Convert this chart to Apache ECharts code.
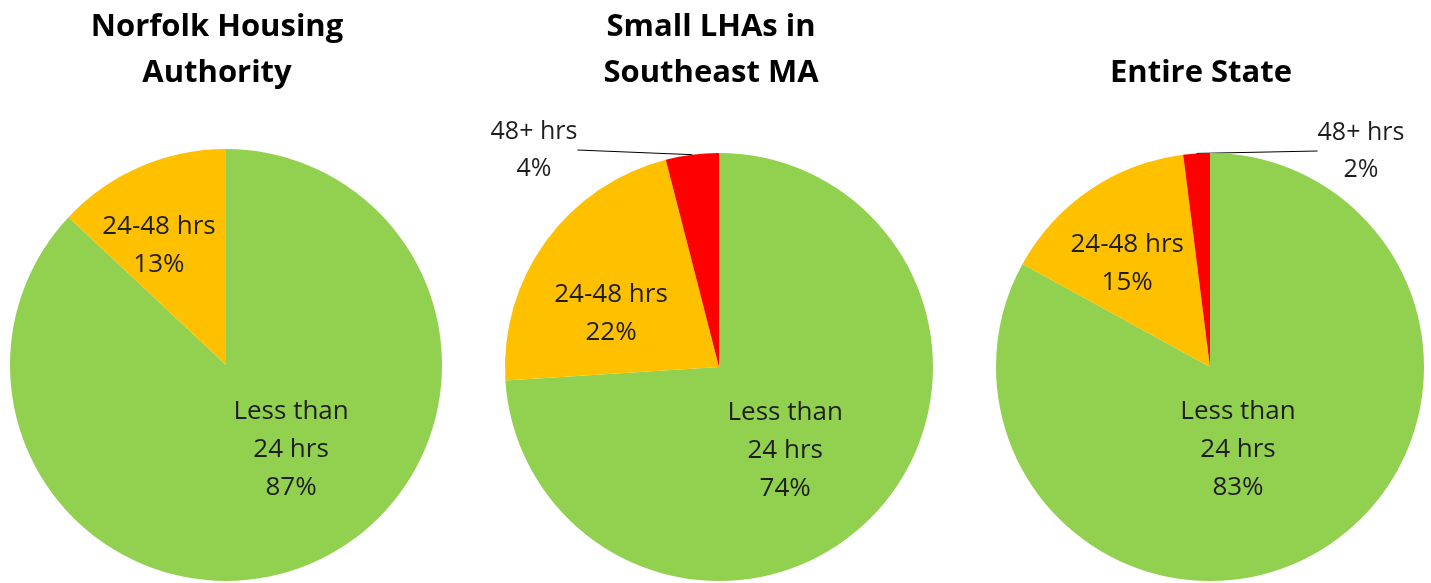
<!DOCTYPE html>
<html>
<head>
<meta charset="utf-8">
<title>Response time</title>
<script src="https://cdn.jsdelivr.net/npm/echarts@6/dist/echarts.min.js"></script>
<style>
  html, body { margin: 0; padding: 0; background: #fff; }
  #chart { width: 1431px; height: 583px; }
</style>
</head>
<body>
<div id="chart"></div>
<script>
// data
const categories = ['Less than\n24 hrs', '24-48 hrs', '48+ hrs']
const norfolkValues = [87, 13]
const southeastValues = [74, 22, 4]
const stateValues = [83, 15, 2]
const titles = ['Norfolk Housing\nAuthority', 'Small LHAs in\nSoutheast MA', 'Entire State']

const colors = ['#92D050', '#FFC000', '#FF0000']
const textColor = '#1e1e1e'
const font = '"Open Sans", "Noto Sans", sans-serif'

let chart = echarts.init(document.getElementById('chart'))

// 每个饼图的位置和标签微调
const pies = [
  { values: norfolkValues, center: [226, 365], radius: 216, titleX: 212, titleY: -1,
    shift: [[21, -17], [-23, -18]], outLabel: null },
  { values: southeastValues, center: [719, 367], radius: 214, titleX: 706, titleY: -1,
    shift: [[-14, 8], [-19, 11]], outLabel: [534, 150] },
  { values: stateValues, center: [1210, 367], radius: 214, titleX: 1196, titleY: 45,
    shift: [[-28, -12], [-21, -12]], outLabel: [1361, 151] }
]

const buildData = (values) => values.map((v, i) => {
  let item = { name: categories[i], value: v, itemStyle: { color: colors[i] } }
  if (i == 2) {
    item.label = { position: 'outside', lineHeight: 37, fontSize: 25 }
    item.labelLine = { show: true, length: 4, length2: 0, lineStyle: { color: '#000', width: 1 } }
  }
  return item
})

let option = {
  animation: false,
  backgroundColor: '#fff',
  title: pies.map((p, i) => ({
    text: titles[i],
    left: p.titleX,
    top: p.titleY,
    textAlign: 'center',
    textStyle: {
      fontFamily: font,
      fontSize: 31,
      fontWeight: 'bold',
      color: '#000',
      lineHeight: 46
    }
  })),
  series: pies.map(p => ({
    type: 'pie',
    center: p.center,
    radius: p.radius,
    startAngle: 90,
    clockwise: true,
    avoidLabelOverlap: false,
    data: buildData(p.values),
    itemStyle: { borderWidth: 0 },
    label: {
      show: true,
      position: 'inside',
      formatter: '{b}\n{c}%',
      fontFamily: font,
      fontSize: 26,
      lineHeight: 38,
      color: textColor,
      align: 'center'
    },
    labelLine: { show: false },
    labelLayout: (params) => {
      if (params.dataIndex == 2 && p.outLabel) {
        return { x: p.outLabel[0], y: p.outLabel[1], align: 'center', verticalAlign: 'middle' }
      }
      let s = p.shift[params.dataIndex]
      return s ? { dx: s[0], dy: s[1] } : {}
    },
    emphasis: { disabled: true }
  }))
}

chart.setOption(option)
</script>
</body>
</html>
